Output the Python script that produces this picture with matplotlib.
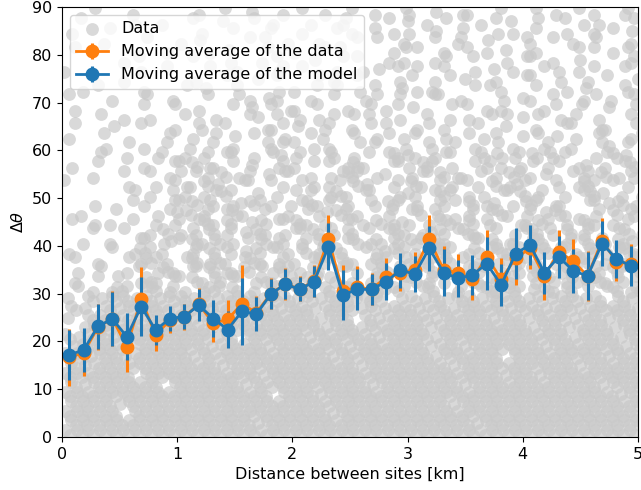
import matplotlib
matplotlib.use("Agg")
import matplotlib.pyplot as plt

# bin centres of the moving averages [km]
dist = [0.0625, 0.1875, 0.3125, 0.4375, 0.5625, 0.6875, 0.8125, 0.9375,
        1.0625, 1.1875, 1.3125, 1.4375, 1.5625, 1.6875, 1.8125, 1.9375,
        2.0625, 2.1875, 2.3125, 2.4375, 2.5625, 2.6875, 2.8125, 2.9375,
        3.0625, 3.1875, 3.3125, 3.4375, 3.5625, 3.6875, 3.8125, 3.9375,
        4.0625, 4.1875, 4.3125, 4.4375, 4.5625, 4.6875, 4.8125, 4.9375]

data_avg = [16.7, 17.6, 23.0, 24.8, 18.9, 28.9, 21.3, 24.5, 25.2, 27.8,
            23.8, 24.6, 27.9, 26.0, 30.0, 32.0, 31.0, 32.6, 41.4, 30.6,
            31.3, 31.0, 33.4, 34.4, 35.0, 41.4, 35.0, 34.4, 33.0, 37.7,
            33.0, 37.4, 39.5, 33.6, 38.8, 36.8, 33.7, 41.1, 36.7, 36.2]
data_err = [6.0, 4.8, 4.8, 5.8, 5.2, 6.7, 3.2, 2.8, 2.7, 3.4,
            3.9, 4.1, 8.1, 3.6, 3.3, 3.3, 2.6, 3.4, 5.1, 5.4,
            4.4, 3.3, 4.0, 3.9, 3.8, 5.1, 5.0, 4.0, 4.3, 5.7,
            4.5, 5.5, 4.3, 4.9, 4.5, 4.6, 5.2, 4.8, 4.1, 4.3]

model_avg = [17.2, 18.2, 23.2, 24.7, 21.0, 27.3, 22.4, 24.8, 25.2, 27.6,
             24.8, 22.5, 26.3, 25.7, 29.9, 32.0, 30.9, 32.5, 39.8, 29.7,
             30.9, 30.9, 32.5, 34.9, 34.1, 39.5, 34.4, 33.2, 33.9, 36.3,
             31.8, 38.4, 40.2, 34.4, 37.7, 34.8, 33.7, 40.5, 37.3, 35.8]
model_err = [5.3, 4.6, 4.7, 5.7, 4.9, 6.1, 3.1, 2.6, 2.6, 3.3,
             3.8, 3.9, 7.0, 3.5, 3.2, 3.2, 2.5, 3.3, 4.9, 5.3,
             4.3, 3.2, 3.9, 3.7, 3.7, 4.7, 4.9, 3.8, 4.2, 5.6,
             4.4, 5.4, 4.2, 4.4, 4.4, 4.6, 5.1, 4.7, 4.0, 4.2]

# raw data cloud, read off the picture as an occupancy map:
# one row per 2 deg (89 at the top down to 1), one column per 0.1 km,
# odd rows sit half a column to the right.
# o centre, a/b upper left/right, c/d lower left/right, 8 two points
data_map = [
    "..b...c... .d..a.o..c b.d..a.c.b c.o.dc..a. .ad.b.c.da",
    ".a...d..c. b..o..ad.. .c.da..b.o .cb..d.ao. b..ad.c..a",
    "d...a..... ..c.b...a. d..b.c.ad. c.o.b..d.c .a.d..cb.o",
    "...c..b..d .o...b.a.c .d...ab..c .b.da.o..b c.ad.b..d.",
    ".a.......c ..d.o..b.. c.b.a...db b..c.ad.o. .c..b.ad.a",
    "....d.a... b...c.d.a. .o.b.a.d.c .db..a..cb a.c.o...da",
    "c.....d..a ..b..c..da b..d..co.a b..a.d.o.c .b.cd.a.b.",
    "..a.d..... .c.b..o.a. .b.c.a..db .d.ao..c.b a.d..cb..o",
    ".d.a...c.. b.o..a..d. c.ab.d.a.o d.c..b.ac. .a.d.o..bc",
    "a..d..b..c ..a.bd.oc. .c.a.db.b. .ba.c..d.o c.a.db.c.a",
    ".c.....a.b .d..b.o.ad c.a.d.b.ca o..b.ad.c. .db..a.o.b",
    "..b.d..c.. a.d..bo.a. cd.ab.a.d. .a.cd.b.ao b.d.a.c.b.",
    ".a..o.b..d .bc.a..dca o.da.cb.a. db.c..a.o. .c.ba.dc.b",
    "c..a....b. d.b.o.a.d. .ac.b.db.c a.d.b.ca.o b.o.c.a.db",
    "...d.b.c.a .c.ad..bca ad.c.b.a.d .bc.ad.b.c .da.c.bo.a",
    "..b..c.da. cdaba.cbod a.bcd.ab8o cdba.bc8da 8bca.db8o.",
    "d..a...c.b a8dcb.o.da cb.ad8c.ba c8ad.bdacd b.cado.cb8",
    "..c.b..adb .ac8db.oba .cdb8ado.d ba8dcb.c8a co.bda8dbc",
    "a....d..cb dc8o.ba.ac bd.ca8o.da 8cbd.ac8do a.bcd8ab.c",
    ".....b.c.a cdb8a.o.cb .ad8cba.do cb8ad.cba8 da.cb8o.cd",
    "..d...ac.b a8bcdo8acd b8cad.bc8a d.bca8do.c 8adc.bao8d",
    ".c..a..dbo 8dab8c.a.c bdo8ac.dab 8bc.dab8cd ao8c.da8bc",
    "b.d.c.a.cd ab8c8.o8ba 8cd.bac8do cdb8a8bc.d c8adb8cd.a",
    "..a.b..c8d bc8dao8cdb a8bc8.ab8c do8b8c.adb 8bc8da.b8d",
    ".d..c.bado a8c8d.a8bc da8cb8d8bc 8a8c.ba8dc b8.da8bc8o",
    "c..b.d8ac. da8bco8bac 8da8.bdo8a cb8ad8b8ca d8bac8db8c",
    ".a.c.bd8ac b8d8cb8cda cb8a8cd8ab c8a8b.cdo8 acd8b8.cdb",
    "d.b..cad8c ba8dc8bd8a c8.bacd8bc a8.cb8adbc 8cd8abc8a8",
    ".c.ab.d8cb a8c8bad8cb c8a8.cd8ab 8dacb8c8da bc8d8o8c8b",
    "b.cd8ab8da cd8a8.cdab da8b8cdo8a b8.dab8c8a o8c8.ab8d8",
    "o.8o88o8o8 8o8o888o88 o8o88o88.o 8o8o88o888 o8o88o8.8o",
    "8o.8o8888o 88o88888o8 8o888o8o88 o88o8888o8 8o88o8888o",
    "o.88o8o88o 8o8888o888 88o88.8o88 88o8888o88 o888o88o88",
    ".o88888888 88o8888888 88o88o8888 8o88888888 o88o888o88",
    "8o88o88888 888o8.8888 8o88888o88 88o8888888 8888o888o8",
    "o8888.8888 88o8888o88 8888o88888 8o88o88888 8o888888o8",
    "88o88o8888 8o88888888 888o888888 88o88888.8 8888888o88",
    "8o88888888 888o888888 88888o8888 888o888888 8888o88888",
    "888888.888 8888888o88 8888888888 88888888o8 8o88888888",
    "8o888888.8 88888o8888 888888o888 8888o88888 888888o888",
    "8888888888 88888888.8 88o8888888 8888888888 88888888o8",
    "8888o88888 8888888888 8888888888 888o888888 8888888888",
    "88888.8888 8888888888 888o888888 8888888888 8888888888",
    "8888888888 888888o888 8888888888 88888o8888 8888888888",
    "8888888888 8888888888 8888888888 8888888888 8888888888",
]
shift = {"o": [(0.0, 0.0)], "a": [(-0.035, 0.7)], "b": [(0.035, 0.7)],
         "c": [(-0.035, -0.7)], "d": [(0.035, -0.7)],
         "8": [(-0.02, 0.5), (0.02, -0.5)]}

pts_x, pts_y = [], []
for r, row in enumerate(data_map):
    row = row.replace(" ", "")
    for c, ch in enumerate(row):
        for dx, dy in shift.get(ch, []):
            pts_x.append(0.05 + 0.1 * c + (0.05 if r % 2 else 0.0) + dx)
            pts_y.append(89 - 2 * r + dy)

fig = plt.figure(figsize=(6.41, 4.90), dpi=100)
ax = fig.add_axes([62 / 641, 53 / 490, 576 / 641, 430 / 490])

ax.scatter(pts_x, pts_y, s=85, c="#c9c9c9", alpha=0.7, linewidths=0,
           label="Data")
ax.errorbar(dist, data_avg, yerr=data_err, fmt="-o", color="#ff7f0e",
            ms=9, lw=2, elinewidth=2.2, label="Moving average of the data")
ax.errorbar(dist, model_avg, yerr=model_err, fmt="-o", color="#1f77b4",
            ms=9, lw=2, elinewidth=2.2, label="Moving average of the model")

ax.set_xlim(0, 5)
ax.set_ylim(0, 90)
ax.set_xlabel("Distance between sites [km]", fontsize=11.5)
ax.set_ylabel(r"$\Delta\theta$", fontsize=11.5)
ax.tick_params(labelsize=11.5)
ax.legend(loc="upper left", fontsize=11.5)

fig.savefig("out.png", dpi=100)
